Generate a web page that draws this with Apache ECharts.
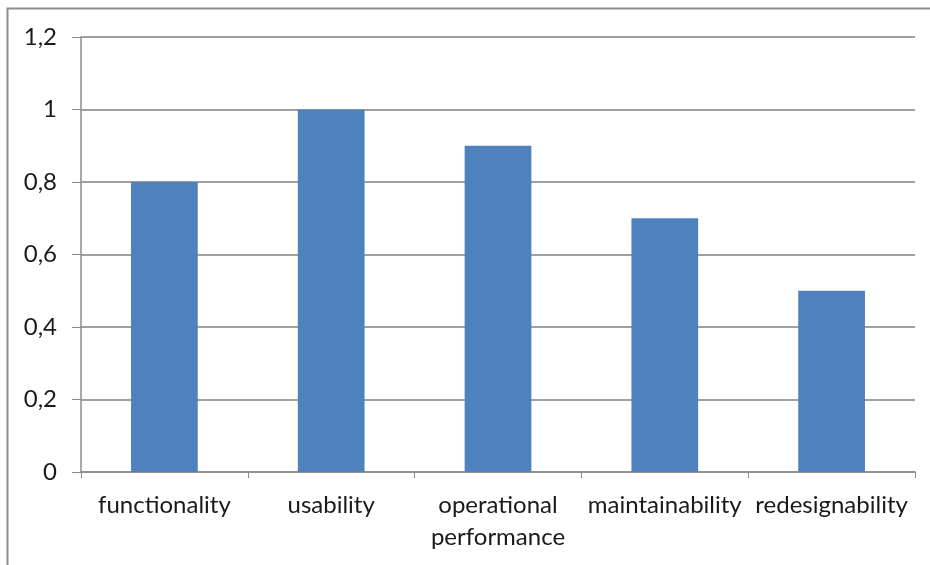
<!DOCTYPE html>
<html>
<head>
<meta charset="utf-8">
<script src="https://cdn.jsdelivr.net/npm/echarts@6/dist/echarts.min.js"></script>
<style>
html,body{margin:0;padding:0;background:#fff;}
#chart{width:930px;height:565px;}
</style>
</head>
<body>
<div id="chart"></div>
<script>
// Quality attributes and their scores
const categories = ['functionality', 'usability', 'operational\nperformance', 'maintainability', 'redesignability'];
const scores = [0.8, 1.0, 0.9, 0.7, 0.5];
const yTicks = { min: 0, max: 1.2, interval: 0.2 };

const chart = echarts.init(document.getElementById('chart'), null, { renderer: 'canvas' });
const font = 'Lato, "Open Sans", sans-serif';

chart.setOption({
  animation: false,
  backgroundColor: '#ffffff',
  graphic: [{
    type: 'rect',
    shape: { x: 7.5, y: 8.5, width: 940, height: 580 },
    style: { fill: 'none', stroke: '#8c8c8c', lineWidth: 2 },
    silent: true
  }],
  grid: { left: 81, right: 15, top: 37, bottom: 93, containLabel: false },
  xAxis: {
    type: 'category',
    data: categories,
    axisLine: { lineStyle: { color: '#8c8c8c', width: 1.5 } },
    axisTick: { show: true, length: 6, alignWithLabel: false, lineStyle: { color: '#8c8c8c' } },
    axisLabel: {
      color: '#1a1a1a', fontFamily: font, fontSize: 24, margin: 17,
      lineHeight: 32, interval: 0
    }
  },
  yAxis: {
    type: 'value',
    min: yTicks.min, max: yTicks.max, interval: yTicks.interval,
    axisLine: { show: true, lineStyle: { color: '#8c8c8c', width: 1.5 } },
    axisTick: { show: true, length: 9, lineStyle: { color: '#8c8c8c' } },
    splitLine: { show: true, lineStyle: { color: '#a0a0a0', width: 2 } },
    axisLabel: {
      color: '#1a1a1a', fontFamily: font, fontSize: 24, margin: 24,
      formatter: v => String(Math.round(v * 10) / 10).replace('.', ',')
    }
  },
  series: [{
    type: 'bar',
    data: scores,
    barWidth: '40%',
    itemStyle: { color: '#4f81bd' }
  }]
});
</script>
</body>
</html>
